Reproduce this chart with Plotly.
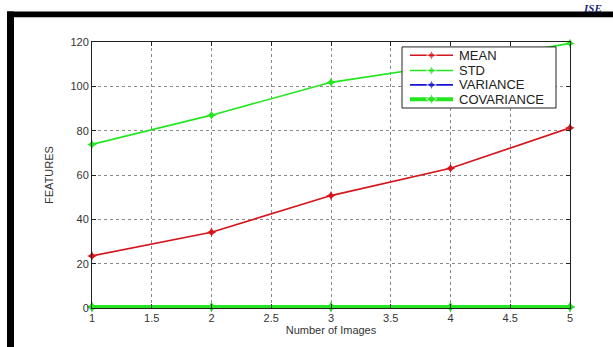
import plotly.graph_objects as go

# Number of images processed
images = [1, 2, 3, 4, 5]

# Feature values per statistic
mean_vals = [23.5, 34.2, 50.7, 63.0, 81.3]
std_vals = [73.8, 87.0, 101.8, 110.0, 119.4]
variance_vals = [0.4, 0.4, 0.4, 0.4, 0.4]
covariance_vals = [0.5, 0.5, 0.5, 0.5, 0.5]

x_ticks = [1, 1.5, 2, 2.5, 3, 3.5, 4, 4.5, 5]
x_tick_text = ["1", "1.5", "2", "2.5", "3", "3.5", "4", "4.5", "5"]
y_ticks = [0, 20, 40, 60, 80, 100, 120]

series = [
    ("MEAN", mean_vals, "#d6141c", 1.6, 7),
    ("STD", std_vals, "#22e61e", 1.6, 7),
    ("VARIANCE", variance_vals, "#1414d2", 1.6, 7),
    ("COVARIANCE", covariance_vals, "#22e61e", 4, 8),
]

FONT = "Liberation Sans, Arial, sans-serif"
MARKER = "star-diamond"

fig = go.Figure()
for name, vals, color, width, msize in series:
    fig.add_trace(go.Scatter(
        x=images, y=vals, name=name, mode="lines+markers",
        line=dict(color=color, width=width),
        marker=dict(symbol=MARKER, size=msize, color=color),
        cliponaxis=False, showlegend=False,
    ))

axis_common = dict(
    showline=True, linecolor="#222222", linewidth=1, mirror="allticks",
    ticks="inside", ticklen=4, tickcolor="#222222",
    showgrid=True, gridcolor="#8a8a8a", griddash="dot", gridwidth=1,
    zeroline=False,
    tickfont=dict(family=FONT, size=11, color="#333333"),
)

fig.update_xaxes(
    range=[1, 5], tickvals=x_ticks, ticktext=x_tick_text,
    title=dict(text="Number of Images", standoff=3,
               font=dict(family=FONT, size=11, color="#333333")),
    **axis_common,
)
fig.update_yaxes(
    range=[0, 120], tickvals=y_ticks,
    title=dict(text="FEATURES", standoff=14,
               font=dict(family=FONT, size=11, color="#333333")),
    **axis_common,
)

# Pixel -> paper helpers for the plot area (92..570 x 42..312)
W, H = 478.0, 270.0
def px(x):
    return (x - 92) / W
def py(y):
    return (312 - y) / H

# Overlay axes in paper units, drawn on top of the data: used for the legend
fig.update_layout(
    xaxis2=dict(overlaying="x", range=[0, 1], visible=False, fixedrange=True),
    yaxis2=dict(overlaying="y", range=[0, 1], visible=False, fixedrange=True),
)

# Legend box (white fill with dark outline)
bx0, bx1, by0, by1 = px(402), px(556), py(109), py(47)
fig.add_trace(go.Scatter(
    x=[bx0, bx1, bx1, bx0, bx0], y=[by0, by0, by1, by1, by0],
    mode="lines", fill="toself", fillcolor="white",
    line=dict(color="#222222", width=1),
    xaxis="x2", yaxis="y2", showlegend=False, hoverinfo="skip",
    cliponaxis=False,
))

row_y = [55.5, 71, 85.5, 100]
for (name, vals, color, width, msize), ry in zip(series, row_y):
    fig.add_trace(go.Scatter(
        x=[px(410), px(431.5), px(453)], y=[py(ry)] * 3,
        mode="lines+markers",
        line=dict(color=color, width=width),
        marker=dict(symbol=MARKER, size=[0, msize, 0], color=color),
        xaxis="x2", yaxis="y2", showlegend=False, hoverinfo="skip",
        cliponaxis=False,
    ))
    fig.add_annotation(text=name, xref="paper", yref="paper",
                       x=px(457), y=py(ry), xanchor="left", yanchor="middle",
                       showarrow=False,
                       font=dict(family=FONT, size=13, color="#222222"))

# Outer black frame (top and left edges visible)
fig.add_shape(type="rect", xref="paper", yref="paper",
              x0=px(7), x1=px(620), y0=py(11), y1=py(17),
              fillcolor="black", line=dict(width=0), layer="above")
fig.add_shape(type="rect", xref="paper", yref="paper",
              x0=px(7), x1=px(14), y0=py(11), y1=py(360),
              fillcolor="black", line=dict(width=0), layer="above")

fig.add_annotation(text="<b><i>ISE</i></b>", xref="paper", yref="paper",
                   x=px(582), y=py(0), xanchor="left", yanchor="top",
                   showarrow=False, borderpad=0,
                   font=dict(family="Liberation Serif, serif", size=11, color="#1c2a6e"))

fig.update_layout(
    width=613, height=347,
    margin=dict(l=92, r=43, t=42, b=35),
    paper_bgcolor="white", plot_bgcolor="white",
    showlegend=False,
)

fig.write_html("out.html")
